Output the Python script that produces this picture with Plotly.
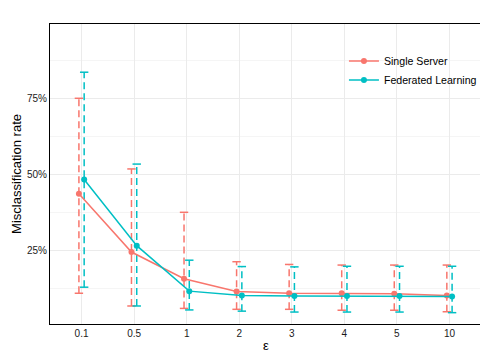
import plotly.graph_objects as go

categories = ["0.1", "0.5", "1", "2", "3", "4", "5", "10"]
single_mean = [0.437, 0.245, 0.157, 0.115, 0.109, 0.109, 0.107, 0.102]
single_low = [0.109, 0.067, 0.059, 0.056, 0.056, 0.053, 0.053, 0.048]
single_high = [0.752, 0.519, 0.376, 0.213, 0.204, 0.202, 0.202, 0.202]
fed_mean = [0.484, 0.266, 0.116, 0.102, 0.100, 0.100, 0.100, 0.098]
fed_low = [0.129, 0.067, 0.054, 0.050, 0.047, 0.047, 0.047, 0.045]
fed_high = [0.838, 0.535, 0.218, 0.197, 0.196, 0.198, 0.198, 0.198]

RED = "#F8766D"
CYAN = "#00BFC4"
FONT = "Liberation Sans, Arial, sans-serif"
DODGE = 0.05

fig = go.Figure()

series = [
    ("Single Server", single_mean, single_low, single_high, RED, -DODGE),
    ("Federated Learning", fed_mean, fed_low, fed_high, CYAN, DODGE),
]

for name, mean, lo, hi, color, off in series:
    xs = [i + 1 + off for i in range(len(categories))]
    ex, ey = [], []
    for x, l, h in zip(xs, lo, hi):
        ex += [x, x, None]
        ey += [l, h, None]
    fig.add_trace(go.Scatter(x=ex, y=ey, mode="lines", showlegend=False,
                             line=dict(color=color, width=1.5, dash="7px,4px"),
                             hoverinfo="skip"))
    fig.add_trace(go.Scatter(x=xs + xs, y=lo + hi, mode="markers", showlegend=False,
                             marker=dict(symbol="line-ew", size=6,
                                         line=dict(color=color, width=1.5)),
                             hoverinfo="skip"))

for name, mean, lo, hi, color, off in series:
    xs = [i + 1 + off for i in range(len(categories))]
    fig.add_trace(go.Scatter(x=xs, y=mean, mode="lines+markers", name=name,
                             line=dict(color=color, width=1.5),
                             marker=dict(color=color, size=6)))

# page body has an 8px margin, so the figure is shrunk by 8px and margins reduced
fig.update_layout(
    width=480, height=352,
    margin=dict(l=41.5, r=7, t=16, b=36, autoexpand=False),
    paper_bgcolor="white", plot_bgcolor="white",
    font=dict(family=FONT, size=10, color="#1a1a1a"),
    legend=dict(x=0.682, y=0.925, xanchor="left", yanchor="top",
                bgcolor="rgba(255,255,255,0)", font=dict(size=10.6, color="black"),
                tracegroupgap=4),
    xaxis=dict(range=[0.4, 8.6], tickvals=list(range(1, len(categories) + 1)),
               ticktext=categories, showgrid=True, gridcolor="#EBEBEB", gridwidth=1,
               zeroline=False, showline=True, linecolor="black", linewidth=1.2,
               mirror=True, ticks="", automargin=False,
               tickfont=dict(size=10, color="#1a1a1a")),
    yaxis=dict(range=[0.0076, 0.997], tickvals=[0.25, 0.5, 0.75],
               ticktext=["25%", "50%", "75%"], showgrid=True, gridcolor="#EBEBEB",
               gridwidth=1, zeroline=False, showline=True, linecolor="black",
               linewidth=1.2, mirror=True, ticks="", automargin=False,
               minor=dict(tickvals=[0.125, 0.375, 0.625, 0.875], showgrid=True,
                          gridcolor="#F5F5F5", gridwidth=1),
               tickfont=dict(size=10, color="#1a1a1a")),
    annotations=[
        dict(text="ε", xref="paper", yref="paper", x=0.5, y=-0.07,
             xanchor="center", yanchor="middle", showarrow=False,
             font=dict(size=13, color="black")),
        dict(text="Misclassification rate", xref="paper", yref="paper",
             x=-0.079, y=0.5, xanchor="center", yanchor="middle", textangle=-90,
             showarrow=False, font=dict(size=13, color="black")),
    ],
)

fig.write_html("out.html")
